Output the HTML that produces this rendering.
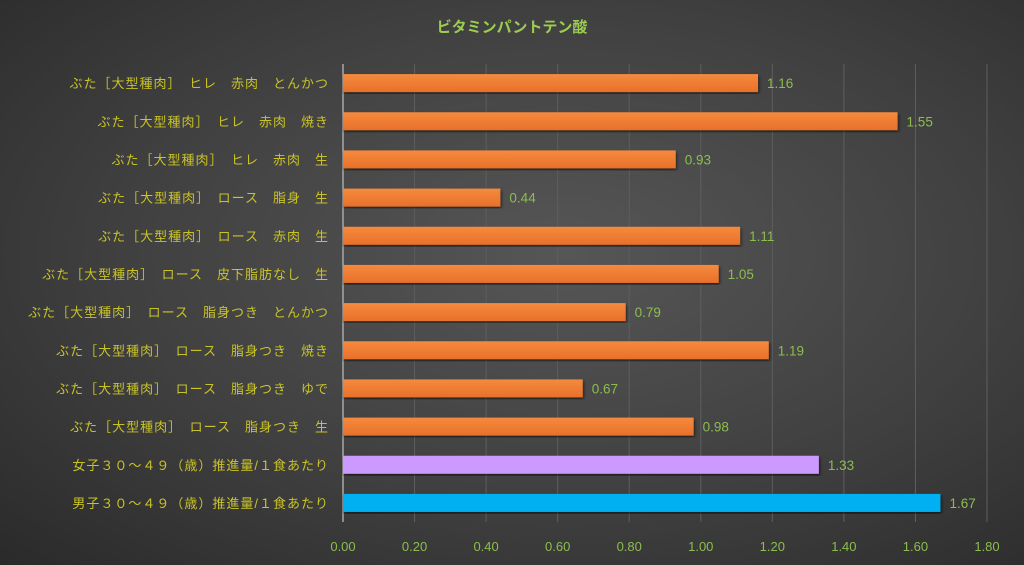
<!DOCTYPE html>
<html><head><meta charset="utf-8"><style>
html,body{margin:0;padding:0;width:1024px;height:565px;overflow:hidden}
body{background:radial-gradient(ellipse at 55% 45%,#565656 0%,#404040 55%,#2a2a2a 100%);font-family:"Liberation Sans","Noto Sans CJK JP",sans-serif}
</style></head><body>
<svg id="chart" width="1024" height="565" xmlns="http://www.w3.org/2000/svg">
<text x="512" y="32" text-anchor="middle" font-size="15" font-weight="bold" fill="#9ccc50" font-family="Liberation Sans, Noto Sans CJK JP, sans-serif">ビタミンパントテン酸</text>
<g id="grid"></g><g id="bars"></g><g id="labels"></g>
</svg>
<script>
const categories=["ぶた［大型種肉］　ヒレ　赤肉　とんかつ","ぶた［大型種肉］　ヒレ　赤肉　焼き","ぶた［大型種肉］　ヒレ　赤肉　生","ぶた［大型種肉］　ロース　脂身　生","ぶた［大型種肉］　ロース　赤肉　生","ぶた［大型種肉］　ロース　皮下脂肪なし　生","ぶた［大型種肉］　ロース　脂身つき　とんかつ","ぶた［大型種肉］　ロース　脂身つき　焼き","ぶた［大型種肉］　ロース　脂身つき　ゆで","ぶた［大型種肉］　ロース　脂身つき　生","女子３０～４９（歳）推進量/１食あたり","男子３０～４９（歳）推進量/１食あたり"];
const values=[1.16,1.55,0.93,0.44,1.11,1.05,0.79,1.19,0.67,0.98,1.33,1.67];
const ticks=[0,0.2,0.4,0.6,0.8,1.0,1.2,1.4,1.6,1.8];
const NS="http://www.w3.org/2000/svg";
const x0=343,x1=987,xmax=1.8,yTop=64,yBottom=522;
const xs=v=>x0+(x1-x0)*v/xmax;
const band=(yBottom-yTop)/categories.length;
const yc=i=>yTop+band*(i+0.5);
function mk(t,a,p){const e=document.createElementNS(NS,t);for(const k in a)e.setAttribute(k,a[k]);p.appendChild(e);return e;}
const grid=document.getElementById('grid'),bars=document.getElementById('bars'),labels=document.getElementById('labels');
const defs=mk('defs',{},document.getElementById('chart'));
defs.innerHTML='<filter id="sh"><feDropShadow dx="1" dy="2" stdDeviation="1.5" flood-color="#000" flood-opacity="0.6"/></filter><linearGradient id="og" x1="0" y1="0" x2="0" y2="1"><stop offset="0" stop-color="#f58a3e"/><stop offset="1" stop-color="#e8702a"/></linearGradient>';
ticks.forEach(t=>{
  if(t>0){const g=mk('line',{x1:xs(t),x2:xs(t),y1:yTop,y2:yBottom,stroke:'#5e5e5e','stroke-width':1},grid);
  
  }
  const l=mk('text',{x:xs(t),y:551,'text-anchor':'middle','font-size':13,fill:'#8cbd4e'},labels);
  
  
  l.textContent=t.toFixed(2);
});
const ax=mk('line',{x1:x0,x2:x0,y1:yTop,y2:yBottom,stroke:'#a8a8a8','stroke-width':1.5},grid);


categories.forEach((c,i)=>{
  const v=values[i],y=yc(i),h=18;
  const fill=i===10?'#cc99ff':i===11?'#00b0f0':'url(#og)';
  const r=mk('rect',{x:x0,y:y-h/2,width:xs(v)-x0,height:h,fill:fill,filter:'url(#sh)'},bars);
  
  
  const vl=mk('text',{x:xs(v)+9,y:y+5,'font-size':13.5,fill:'#8cbd4e'},labels);
  
  
  vl.textContent=v.toFixed(2);
  const cl=mk('text',{x:329,y:y+5,'text-anchor':'end','font-size':13,'letter-spacing':1,fill:'#c9c326'},labels);
  
  
  cl.textContent=c;
});
</script>
</body></html>
